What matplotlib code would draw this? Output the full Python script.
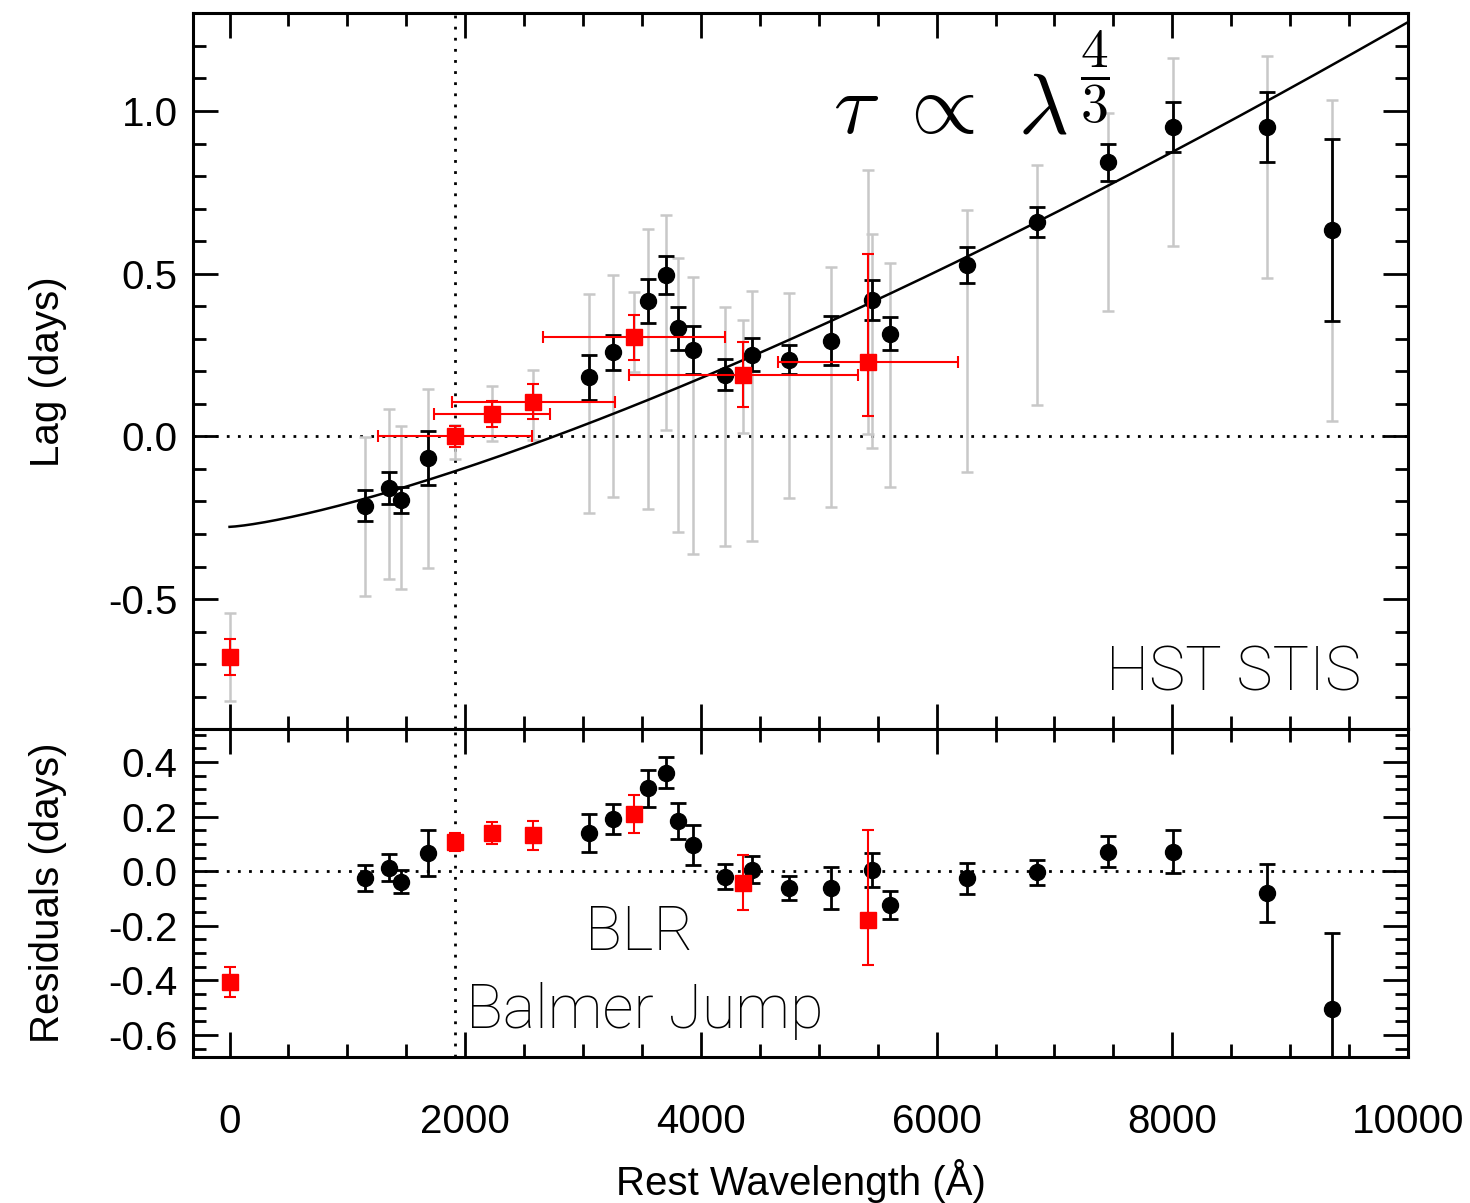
import matplotlib.pyplot as plt
import numpy as np
from matplotlib.ticker import MultipleLocator

plt.rcParams['font.family'] = ['Liberation Sans', 'DejaVu Sans']
plt.rcParams['mathtext.fontset'] = 'cm'
plt.rcParams['axes.unicode_minus'] = False

# continuum lags (black circles)
wave = [1150, 1354, 1456, 1687, 3050, 3250, 3553, 3704, 3804, 3930, 4206,
        4436, 4748, 5100, 5454, 5605, 6255, 6856, 7454, 8006, 8806, 9355]
lag = [-0.213, -0.158, -0.195, -0.066, 0.181, 0.259, 0.417, 0.496, 0.332, 0.266, 0.19,
       0.251, 0.236, 0.294, 0.42, 0.316, 0.527, 0.659, 0.842, 0.95, 0.95, 0.635]
lag_err = [0.048, 0.05, 0.041, 0.083, 0.07, 0.054, 0.068, 0.058, 0.066, 0.073, 0.047,
           0.05, 0.044, 0.076, 0.062, 0.052, 0.056, 0.045, 0.058, 0.077, 0.107, 0.28]
# grey bars (upper / lower ends)
grey_hi = [-0.002, 0.085, 0.032, 0.146, 0.437, 0.495, 0.637, 0.679, 0.548, 0.49, 0.397,
           0.446, 0.441, 0.521, 0.622, 0.534, 0.695, 0.833, 0.994, 1.162, 1.17, 1.033]
grey_lo = [-0.491, -0.437, -0.47, -0.404, -0.234, -0.187, -0.223, 0.02, -0.294, -0.36, -0.338,
           -0.32, -0.19, -0.218, -0.036, -0.154, -0.108, 0.097, 0.384, 0.586, 0.487, 0.046]
resid = [-0.026, 0.013, -0.038, 0.066, 0.139, 0.191, 0.303, 0.361, 0.185, 0.097, -0.02,
         0.005, -0.062, -0.062, 0.005, -0.124, -0.026, -0.004, 0.072, 0.072, -0.081, -0.505]

# broad band / BLR lags (red squares)
wave_r = [0, 1913, 2230, 2578, 3432, 4360, 5420]
wave_r_err = [0, 655, 493, 690, 776, 970, 765]
lag_r = [-0.679, 0.0, 0.069, 0.107, 0.304, 0.19, 0.23]
lag_r_lo = [0.055, 0.033, 0.041, 0.053, 0.07, 0.1, 0.166]
lag_r_hi = [0.055, 0.033, 0.041, 0.053, 0.07, 0.1, 0.329]
grey_r_hi = [-0.543, 0.034, 0.154, 0.205, 0.443, 0.357, 0.82]
grey_r_lo = [-0.813, -0.068, -0.015, -0.01, 0.198, 0.01, 0.008]
resid_r = [-0.405, 0.108, 0.139, 0.131, 0.208, -0.042, -0.179]

# tau = tau0 + amp * (lambda/1e4)^(4/3)
tau0 = -0.278
amp = 1.551
balmer = 1910

grey = '#c8c8c8'
dots = (0, (1, 3))

fig = plt.figure(figsize=(14.7, 12.03), dpi=100)
ax1 = fig.add_axes([0.1313, 0.3938, 0.8265, 0.5951])
ax2 = fig.add_axes([0.1313, 0.1216, 0.8265, 0.2722])

wave = np.array(wave); lag = np.array(lag)
wave_r = np.array(wave_r); lag_r = np.array(lag_r)

# top panel
ax1.errorbar(wave, lag, yerr=[lag - np.array(grey_lo), np.array(grey_hi) - lag], fmt='none',
             ecolor=grey, elinewidth=1.8, capsize=4.5, capthick=1.8, zorder=1)
ax1.errorbar(wave_r, lag_r, yerr=[lag_r - np.array(grey_r_lo), np.array(grey_r_hi) - lag_r], fmt='none',
             ecolor=grey, elinewidth=1.8, capsize=4.5, capthick=1.8, zorder=1)
lam = np.linspace(0, 10000, 400)
ax1.plot(lam, tau0 + amp * (lam / 1e4) ** (4 / 3), color='k', lw=1.8, zorder=2)
ax1.errorbar(wave, lag, yerr=lag_err, fmt='o', color='k', ms=11.5,
             elinewidth=2, capsize=6, capthick=2, zorder=3)
ax1.errorbar(wave_r, lag_r, xerr=wave_r_err, yerr=[lag_r_lo, lag_r_hi], fmt='s', color='red',
             ms=11.5, elinewidth=1.5, capsize=4.5, capthick=1.5, zorder=4)
ax1.axhline(0, color='k', ls=dots, lw=2, zorder=0)
ax1.axvline(balmer, color='k', ls=dots, lw=2, zorder=0)
ax1.text(5122, 0.934, r'$\tau\ \propto\ \lambda$', fontsize=62, ha='left', va='baseline')
ax1.text(7340, 1.103, r'$\dfrac{4}{3}$', fontsize=40, ha='center', va='center')
ax1.text(9600, -0.78, 'HST STIS', fontsize=44, family='Roboto', fontweight='light',
         ha='right', va='baseline')
ax1.set_ylim(-0.9, 1.3)
ax1.yaxis.set_major_locator(MultipleLocator(0.5))
ax1.yaxis.set_minor_locator(MultipleLocator(0.1))
ax1.set_ylabel('Lag (days)', fontsize=29)
ax1.tick_params(labelbottom=False)

# residuals
ax2.errorbar(wave, resid, yerr=lag_err, fmt='o', color='k', ms=11.5,
             elinewidth=2, capsize=6, capthick=2, zorder=3)
ax2.errorbar(wave_r, resid_r, yerr=[lag_r_lo, lag_r_hi], fmt='s', color='red', ms=11.5,
             elinewidth=1.5, capsize=4.5, capthick=1.5, zorder=4)
ax2.axhline(0, color='k', ls=dots, lw=2, zorder=0)
ax2.axvline(balmer, color='k', ls=dots, lw=2, zorder=0)
ax2.text(3480, -0.289, 'BLR', fontsize=44, family='Roboto', fontweight='light',
         ha='center', va='baseline')
ax2.text(2010, -0.575, 'Balmer Jump', fontsize=44, family='Roboto', fontweight='light',
         ha='left', va='baseline')
ax2.set_ylim(-0.68, 0.52)
ax2.yaxis.set_major_locator(MultipleLocator(0.2))
ax2.yaxis.set_minor_locator(MultipleLocator(0.05))
ax2.set_yticks([0.4, 0.2, 0.0, -0.2, -0.4, -0.6])
ax2.set_ylabel('Residuals (days)', fontsize=29)
ax2.set_xlabel('Rest Wavelength (Å)', fontsize=29, labelpad=13)

for ax in (ax1, ax2):
    ax.set_xlim(-310, 10000)
    ax.xaxis.set_major_locator(MultipleLocator(2000))
    ax.xaxis.set_minor_locator(MultipleLocator(500))
    ax.tick_params(which='both', direction='in', top=True, right=True, width=2,
                   labelsize=29)
    ax.tick_params(which='major', length=18)
    ax.tick_params(which='minor', length=9.5)
    ax.tick_params(axis='y', pad=11)
    ax.tick_params(axis='x', pad=33)
    for s in ax.spines.values():
        s.set_linewidth(2.2)
    ax.yaxis.set_label_coords(-0.104, 0.5)

fig.savefig('out.png', dpi=100)
